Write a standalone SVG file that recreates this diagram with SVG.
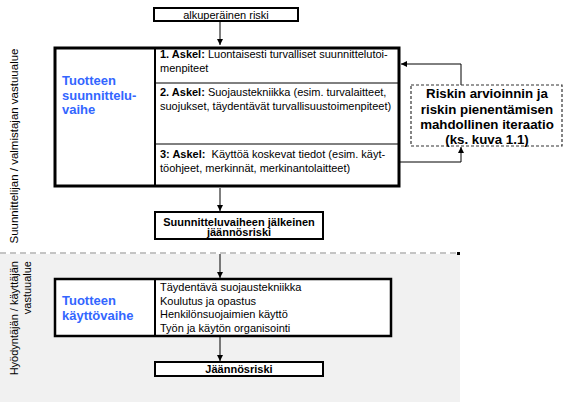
<svg xmlns="http://www.w3.org/2000/svg" width="569" height="402" viewBox="0 0 569 402">
<defs>
<marker id="ah" markerUnits="userSpaceOnUse" markerWidth="6" markerHeight="6" refX="6" refY="3" orient="auto">
<path d="M0,0 L6,3 L0,6 z" fill="#000"/>
</marker>
<style>
text{font-family:"Liberation Sans",Arial,sans-serif;fill:#000}
.t{font-size:11px}
.b{font-weight:bold}
.blue{font-size:13px;font-weight:bold;fill:#3366ff}
.it{font-size:13.3px;font-weight:bold;text-anchor:middle}
.box{fill:#fff;stroke:#000;stroke-width:2}
.big{fill:none;stroke:#000;stroke-width:3}
.con{fill:none;stroke:#000;stroke-width:1}
.mid{text-anchor:middle}
</style>
</defs>
<rect width="569" height="402" fill="#fff"/>
<rect x="0" y="254" width="460" height="148" fill="#f1f1f1"/>
<line x1="0" y1="253" x2="457" y2="253" stroke="#8a8a8a" stroke-width="1" stroke-dasharray="6,4"/>
<rect x="457" y="252" width="3" height="3" fill="#000"/>

<g id="label-designer">
<text class="mid" font-size="11.5" transform="translate(18,146) rotate(-90)">Suunnittelijan / valmistajan vastuualue</text>
</g>
<g id="label-user">
<text class="t" text-anchor="end" transform="translate(18,261) rotate(-90)">Hyödyntäjän / käyttäjän</text>
<text class="t" text-anchor="end" transform="translate(31,261) rotate(-90)">vastuualue</text>
</g>

<g id="connectors">
<line class="con" x1="220" y1="22" x2="220" y2="45" marker-end="url(#ah)"/>
<line class="con" x1="220" y1="188" x2="220" y2="211" marker-end="url(#ah)"/>
<line class="con" x1="220" y1="254" x2="220" y2="278" marker-end="url(#ah)"/>
<line class="con" x1="220" y1="337" x2="220" y2="361" marker-end="url(#ah)"/>
<polyline class="con" points="461,85 461,64 401,64" marker-end="url(#ah)"/>
<polyline class="con" points="400,162 461,162 461,147" marker-end="url(#ah)"/>
</g>

<g id="node-original-risk">
<rect class="box" x="154" y="8" width="144" height="13"/>
<text class="t mid" x="226" y="18.5">alkuperäinen riski</text>
</g>

<g id="node-design-phase">
<rect class="big" x="55" y="48" width="344" height="138" fill="#fff"/>
<line x1="155" y1="48" x2="155" y2="186" stroke="#000" stroke-width="2"/>
<line x1="155" y1="83" x2="399" y2="83" stroke="#000" stroke-width="1"/>
<line x1="155" y1="144" x2="399" y2="144" stroke="#000" stroke-width="1"/>
<text class="blue" x="62" y="85">Tuotteen</text>
<text class="blue" x="62" y="99.5">suunnittelu-</text>
<text class="blue" x="62" y="114">vaihe</text>
<text class="t" x="160" y="58"><tspan class="b">1. Askel:</tspan> Luontaisesti turvalliset suunnittelutoi-</text>
<text class="t" x="160" y="72">menpiteet</text>
<text class="t" x="160" y="96"><tspan class="b">2. Askel:</tspan> Suojaustekniikka (esim. turvalaitteet,</text>
<text class="t" x="160" y="110">suojukset, täydentävät turvallisuustoimenpiteet)</text>
<text class="t" x="160" y="158"><tspan class="b">3: Askel:</tspan>&#160; Käyttöä koskevat tiedot (esim. käyt-</text>
<text class="t" x="160" y="172">töohjeet, merkinnät, merkinantolaitteet)</text>
</g>

<g id="node-iteration">
<rect x="411" y="85" width="151" height="61" fill="#fff" stroke="#333" stroke-width="1.2" stroke-dasharray="3,2"/>
<text class="it" x="487" y="98">Riskin arvioinnin ja</text>
<text class="it" x="487" y="113.5">riskin pienentämisen</text>
<text class="it" x="487" y="129">mahdollinen iteraatio</text>
<text class="it" x="487" y="144">(ks. kuva 1.1)</text>
</g>

<g id="node-design-residual">
<rect class="box" x="155" y="212" width="168" height="27"/>
<text class="t b mid" x="239" y="225.5">Suunnitteluvaiheen jälkeinen</text>
<text class="t b mid" x="239" y="236">jäännösriski</text>
</g>

<g id="node-use-phase">
<rect x="55" y="279" width="336" height="57" fill="#fff" stroke="#000" stroke-width="2.5"/>
<line x1="155" y1="279" x2="155" y2="336" stroke="#000" stroke-width="2"/>
<text class="blue" x="62" y="305">Tuotteen</text>
<text class="blue" x="62" y="320">käyttövaihe</text>
<text class="t" x="160" y="291">Täydentävä suojaustekniikka</text>
<text class="t" x="160" y="304.5">Koulutus ja opastus</text>
<text class="t" x="160" y="318">Henkilönsuojaimien käyttö</text>
<text class="t" x="160" y="331.5">Työn ja käytön organisointi</text>
</g>

<g id="node-residual">
<rect class="box" x="155" y="362" width="168" height="14"/>
<text class="t b mid" x="239" y="373">Jäännösriski</text>
</g>
</svg>
